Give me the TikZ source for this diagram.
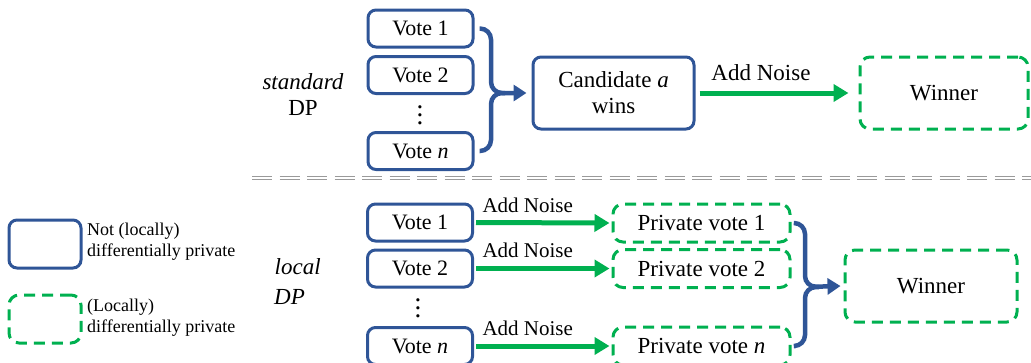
\documentclass[tikz,border=0pt]{standalone}
\usepackage{fontspec}
\setmainfont{Liberation Serif}
\usetikzlibrary{arrows.meta}
\definecolor{dpblue}{HTML}{2F5597}
\definecolor{dpgreen}{HTML}{00B050}
\definecolor{sepgray}{HTML}{9A9A9A}
% three stacked full stops, evenly spaced
\newcommand\stackeddots{\vbox{\baselineskip=8pt\lineskiplimit=-20pt\lineskip=0pt
  \hbox{.}\hbox{.}\hbox{.}}}

\begin{document}
\begin{tikzpicture}[x=1pt,y=-1pt,
  bigtxt/.style={font=\fontsize{23}{26}\selectfont, inner sep=0pt},
  dotstxt/.style={font=\fontsize{27}{30}\selectfont, inner sep=0pt},
  plainbox/.style={draw=dpblue, line width=3pt, rounded corners=8pt, inner sep=0pt,
    align=center, font=\fontsize{23}{26}\selectfont},
  votebox/.style={plainbox, minimum width=105pt, minimum height=37pt,
    font=\fontsize{22}{24}\selectfont},
  privbox/.style={draw=dpgreen, line width=3pt, dash pattern=on 11pt off 7pt,
    rounded corners=10pt, inner sep=0pt, align=center, font=\fontsize{23}{26}\selectfont},
  privvote/.style={privbox, minimum width=177pt, minimum height=38pt},
  resultbox/.style={minimum height=72pt},
  noisearrow/.style={draw=dpgreen, line width=5pt, -{Triangle[length=15pt,width=17pt]}},
  mergeline/.style={draw=dpblue, line width=4.5pt, rounded corners=11pt},
  mergearrow/.style={mergeline, -{Triangle[length=13pt,width=16pt]}},
  noiselabel/.style={font=\fontsize{21}{24}\selectfont, inner sep=0pt},
  legendtxt/.style={font=\fontsize{18}{21}\selectfont, align=left, anchor=west, inner sep=0pt},
  sepline/.style={draw=sepgray, line width=1.4pt, dash pattern=on 20pt off 7.5pt},
]
\useasboundingbox (0,0) rectangle (1031,362);

% ---------- standard DP ----------
\node[bigtxt, font=\fontsize{23}{26}\selectfont\itshape] (stdname) at (303,82) {standard};
\node[bigtxt] (stddp) at (303,108) {DP};

\node[votebox] (tv1) at (420.5,28.5) {Vote 1};
\node[votebox] (tv2) at (420.5,75) {Vote 2};
\node[dotstxt] (tdots) at (420,115) {\stackeddots};
\node[votebox] (tvn) at (420.5,151) {Vote \textit{n}};

\node[plainbox, resultbox, minimum width=161pt] (cand) at (613.5,93) {Candidate \textit{a}\\wins};
\node[privbox, resultbox, minimum width=168pt] (twin) at (944,93) {Winner};

\coordinate (tj) at (491,93);
\draw[mergearrow] ([xshift=5pt]tv1.east) -| (tj) -- ([xshift=-5pt]cand.west);
\draw[mergeline] ([xshift=5pt]tvn.east) -| (tj) -- ([xshift=14pt]tj);

\draw[noisearrow] ([xshift=4pt]cand.east) -- node[bigtxt, above=10pt, xshift=-13pt] (tnoise) {Add Noise} ([xshift=-10pt]twin.west);

% ---------- separator ----------
\draw[sepline] (252,176.3) -- (1031,176.3);
\draw[sepline] (252,179.7) -- (1031,179.7);

% ---------- legend ----------
\node[plainbox, minimum width=72pt, minimum height=48pt] (legplain) at (45,244) {};
\node[legendtxt] (legplaintxt) at (87,242) {Not (locally)\\differentially private};
\node[privbox, minimum width=72pt, minimum height=48pt] (legpriv) at (45,319) {};
\node[legendtxt] (legprivtxt) at (87,318) {(Locally)\\differentially private};

% ---------- local DP ----------
\node[bigtxt, font=\fontsize{23}{26}\selectfont\itshape, anchor=west] (locname) at (274.5,267) {local};
\node[bigtxt, font=\fontsize{23}{26}\selectfont\itshape, anchor=west] (locdp) at (274,297) {DP};

\node[votebox] (bv1) at (420,222.5) {Vote 1};
\node[votebox] (bv2) at (420,268.5) {Vote 2};
\node[dotstxt] (bdots) at (418,308) {\stackeddots};
\node[votebox] (bvn) at (420,346) {Vote \textit{n}};

\node[privvote] (pv1) at (701.5,223) {Private vote 1};
\node[privvote] (pv2) at (701.5,268.5) {Private vote 2};
\node[privvote] (pvn) at (701.5,346) {Private vote \textit{n}};

\draw[noisearrow] ([xshift=2pt]bv1.east) -- node[noiselabel, above=8pt, xshift=-15pt] (n1) {Add Noise} ([xshift=-2pt]pv1.west);
\draw[noisearrow] ([xshift=2pt]bv2.east) -- node[noiselabel, above=8pt, xshift=-15pt] (n2) {Add Noise} ([xshift=-2pt]pv2.west);
\draw[noisearrow] ([xshift=2pt]bvn.east) -- node[noiselabel, above=8pt, xshift=-15pt] (n3) {Add Noise} ([xshift=-2pt]pvn.west);

\node[privbox, resultbox, minimum width=172pt] (bwin) at (931,286) {Winner};

\coordinate (bj) at (805,287);
\draw[mergearrow] ([xshift=4pt]pv1.east) -| (bj) -- ([xshift=-3pt]bwin.west);
\draw[mergeline] ([xshift=4pt]pvn.east) -| (bj) -- ([xshift=14pt]bj);
\end{tikzpicture}
\end{document}
